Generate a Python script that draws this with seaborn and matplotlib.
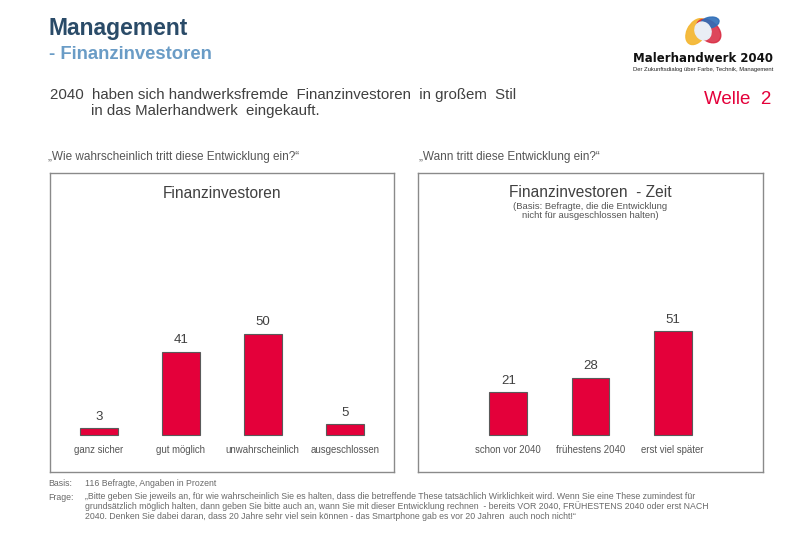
import numpy as np
import pandas as pd
import matplotlib
matplotlib.use("Agg")
import matplotlib.pyplot as plt
from matplotlib.patches import Ellipse
import seaborn as sns

# ---------------- data ----------------
wahrsch_labels = ["ganz sicher", "gut möglich", "unwahrscheinlich", "ausgeschlossen"]
wahrsch_values = [3, 41, 50, 5]

zeit_labels = ["schon vor 2040", "frühestens 2040", "erst viel später"]
zeit_values = [21, 28, 51]

# ---------------- style ----------------
sns.set_theme(style="white")
FONT = ["Liberation Sans", "DejaVu Sans"]
plt.rcParams["font.family"] = FONT

RED = "#E4003A"
EDGE = "#5a5a5a"
GREY = "#555555"
LIGHT = "#6a6a6a"
BOX = "#8a8a8a"

W, H = 800, 554
fig = plt.figure(figsize=(8, 5.54), dpi=100)


def fx(px):
    return px / W


def fy(py):
    return 1 - py / H


# ---------------- header ----------------
fig.text(fx(49), fy(28), "Management", fontsize=16.5, fontweight="bold",
         color="#2A4B68", va="center", ha="left")
fig.text(fx(49), fy(54), "- Finanzinvestoren", fontsize=13.3, fontweight="bold",
         color="#6A9CC6", va="center", ha="left")

fig.text(fx(50), fy(95), "2040  haben sich handwerksfremde  Finanzinvestoren  in großem  Stil",
         fontsize=10.8, color="#404040", va="center", ha="left")
fig.text(fx(91), fy(111), "in das Malerhandwerk  eingekauft.",
         fontsize=10.8, color="#404040", va="center", ha="left")

fig.text(fx(771), fy(99), "Welle  2", fontsize=13.5, color=RED, va="center", ha="right")

# logo
logo = fig.add_axes([fx(684), fy(46), fx(38), 30 / H])
logo.set_xlim(0, 1)
logo.set_ylim(0, 1)
logo.axis("off")
logo.add_patch(Ellipse((0.33, 0.48), 0.5, 0.9, angle=-20, color="#F4B835", alpha=0.95))
logo.add_patch(Ellipse((0.65, 0.5), 0.55, 0.85, angle=30, color="#D8273E", alpha=0.85))
logo.add_patch(Ellipse((0.68, 0.78), 0.5, 0.35, angle=20, color="#2E6EB8", alpha=0.9))
logo.add_patch(Ellipse((0.5, 0.5), 0.42, 0.6, angle=10, color="#E9EEF5"))
fig.text(fx(703), fy(58), "Malerhandwerk 2040", fontsize=8.5, fontweight="bold",
         color="#111111", va="center", ha="center", family=["DejaVu Sans"])
fig.text(fx(703), fy(69), "Der Zukunftsdialog über Farbe, Technik, Management",
         fontsize=4.2, color="#222222", va="center", ha="center")

# questions
fig.text(fx(48), fy(157), "„Wie wahrscheinlich tritt diese Entwicklung ein?\u201c",
         fontsize=8.5, color=GREY, va="center", ha="left")
fig.text(fx(419), fy(157), "„Wann tritt diese Entwicklung ein?\u201c",
         fontsize=8.5, color=GREY, va="center", ha="left")

# ---------------- panels ----------------
box_top, box_bottom = 173.3, 471.7
px_per_unit = 2.02
baseline = 434.5
ylo = -(box_bottom - baseline) / px_per_unit
yhi = (baseline - box_top) / px_per_unit


def panel(left_px, right_px, labels, values, xlim):
    ax = fig.add_axes([fx(left_px), fy(box_bottom), fx(right_px - left_px),
                       (box_bottom - box_top) / H])
    df = pd.DataFrame({"cat": labels, "val": values})
    sns.barplot(data=df, x="cat", y="val", color=RED, saturation=1,
                width=0.46, edgecolor=EDGE, linewidth=0.8, ax=ax)
    ax.set_xlim(*xlim)
    ax.set_ylim(ylo, yhi)
    ax.set_xticks([])
    ax.set_yticks([])
    ax.set_xlabel("")
    ax.set_ylabel("")
    for sp in ax.spines.values():
        sp.set_visible(True)
        sp.set_color(BOX)
        sp.set_linewidth(1.0)
    ax.bar_label(ax.containers[0], labels=[str(v) for v in values],
                 padding=4, fontsize=9.5, color="#404040")
    for i, lab in enumerate(labels):
        ax.text(i, -15.5 / px_per_unit, lab, ha="center", va="center",
                fontsize=6.9, color=GREY)
    return ax


ax1 = panel(49.5, 394, wahrsch_labels, wahrsch_values, (-0.6, 3.6))
ax1.text(0.5, 1 - 20 / (box_bottom - box_top), "Finanzinvestoren",
         transform=ax1.transAxes, ha="center", va="center", fontsize=11.2, color="#404040")

ax2 = panel(418, 763, zeit_labels, zeit_values, (-1.1, 3.1))
ax2.text(0.5, 1 - 19.5 / (box_bottom - box_top), "Finanzinvestoren  - Zeit",
         transform=ax2.transAxes, ha="center", va="center", fontsize=11.2, color="#404040")
ax2.text(0.5, 1 - 38 / (box_bottom - box_top),
         "(Basis: Befragte, die die Entwicklung\nnicht für ausgeschlossen halten)",
         transform=ax2.transAxes, ha="center", va="center", fontsize=6.8,
         color=GREY, linespacing=1.0)

# ---------------- footer ----------------
FS = 6.3
fig.text(fx(48), fy(484), "Basis:", fontsize=FS, color=LIGHT, va="center")
fig.text(fx(85), fy(484), "116 Befragte, Angaben in Prozent", fontsize=FS, color=LIGHT, va="center")
fig.text(fx(48), fy(497), "Frage:", fontsize=FS, color=LIGHT, va="center")
frage = ("„Bitte geben Sie jeweils an, für wie wahrscheinlich Sie es halten, dass die betreffende These tatsächlich Wirklichkeit wird. Wenn Sie eine These zumindest für\n"
         "grundsätzlich möglich halten, dann geben Sie bitte auch an, wann Sie mit dieser Entwicklung rechnen  - bereits VOR 2040, FRÜHESTENS 2040 oder erst NACH\n"
         "2040. Denken Sie dabei daran, dass 20 Jahre sehr viel sein können - das Smartphone gab es vor 20 Jahren  auch noch nicht!\u201c")
fig.text(fx(85), fy(492), frage, fontsize=FS, color=LIGHT, va="top", linespacing=1.05)

fig.savefig("out.png", dpi=100)
